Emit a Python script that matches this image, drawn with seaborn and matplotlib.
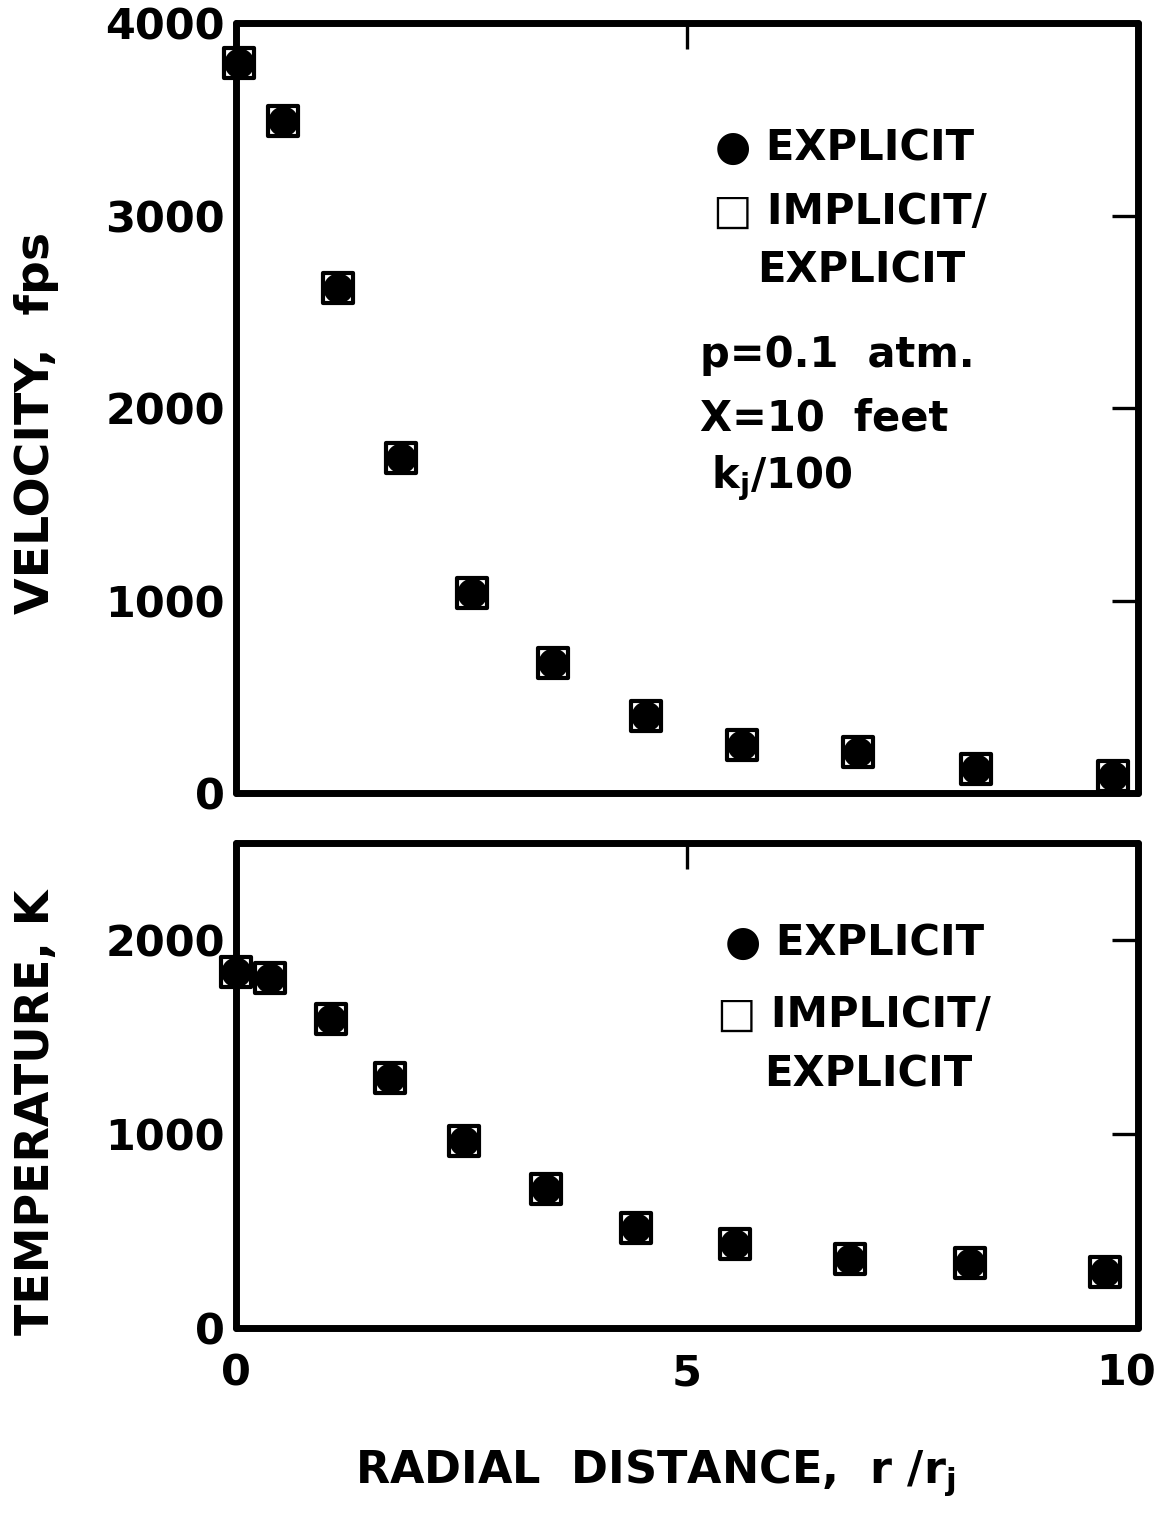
import numpy as np
import pandas as pd
import matplotlib
matplotlib.use("Agg")
import matplotlib.pyplot as plt
import matplotlib.transforms as mtransforms
import seaborn as sns

# ---------------- data ----------------
vel_r = [0.03, 0.52, 1.13, 1.83, 2.62, 3.51, 4.55, 5.61, 6.90, 8.20, 9.72]
vel_explicit = [3790, 3490, 2625, 1740, 1040, 675, 400, 250, 215, 125, 90]
vel_implicit = [3790, 3490, 2625, 1740, 1040, 675, 400, 250, 215, 125, 90]

temp_r = [0.0, 0.38, 1.05, 1.71, 2.53, 3.44, 4.43, 5.53, 6.81, 8.14, 9.63]
temp_explicit = [1835, 1805, 1595, 1290, 965, 715, 515, 435, 355, 335, 290]
temp_implicit = [1835, 1805, 1595, 1290, 965, 715, 515, 435, 355, 335, 290]

x_ticks = [0, 5, 10]
vel_ticks = [0, 1000, 2000, 3000, 4000]
temp_ticks = [0, 1000, 2000]

vel_df = pd.DataFrame({"r": vel_r, "explicit": vel_explicit, "implicit": vel_implicit})
temp_df = pd.DataFrame({"r": temp_r, "explicit": temp_explicit, "implicit": temp_implicit})

# ---------------- style ----------------
sns.set_style("white")
plt.rcParams["font.family"] = ["DejaVu Sans"]
plt.rcParams["mathtext.default"] = "regular"
for k in ("text.color", "axes.labelcolor", "xtick.color", "ytick.color"):
    plt.rcParams[k] = "black"

fig = plt.figure(figsize=(11.57, 15.14), dpi=100)
ax1 = fig.add_axes([0.204, 0.4762, 0.7796, 0.5086])
ax2 = fig.add_axes([0.204, 0.1229, 0.7796, 0.3203])

def draw(ax, df):
    sns.scatterplot(data=df, x="r", y="implicit", marker="s", s=470,
                    facecolor="white", edgecolor="black", linewidth=3.0,
                    ax=ax, zorder=3, legend=False)
    sns.scatterplot(data=df, x="r", y="explicit", marker="o", s=470,
                    color="black", edgecolor="black", linewidth=0,
                    ax=ax, zorder=4, legend=False)

draw(ax1, vel_df)
draw(ax2, temp_df)

for ax in (ax1, ax2):
    ax.set_xlim(0, 10)
    for sp in ax.spines.values():
        sp.set_visible(True)
        sp.set_linewidth(5)
        sp.set_color("black")
        sp.set_capstyle("round")
    ax.tick_params(direction="in", length=19, width=2.4, top=True, right=True,
                   labelsize=31, colors="black")
    ax.set_xticks(x_ticks)
    for c in ax.collections:
        c.set_clip_on(False)

ax1.set_ylim(0, 4000)
ax1.set_yticks(vel_ticks)
ax1.tick_params(axis="x", labelbottom=False)
ax1.tick_params(axis="y", pad=8)

ax2.set_ylim(0, 2500)
ax2.set_yticks(temp_ticks)
ax2.set_xticklabels([str(t) for t in x_ticks])
ax2.tick_params(axis="x", pad=18)
ax2.tick_params(axis="y", pad=8)

for ax in (ax1, ax2):
    for lab in ax.get_xticklabels() + ax.get_yticklabels():
        lab.set_fontweight("bold")

# nudge the last x tick label inward so it stays on the canvas
last = ax2.get_xticklabels()[-1]
last.set_transform(last.get_transform() +
                   mtransforms.ScaledTranslation(-12 / 100, 0, fig.dpi_scale_trans))

ax1.set_xlabel("")
ax1.set_ylabel("VELOCITY,  fps", fontsize=34, fontweight="bold")
ax1.yaxis.set_label_coords(-0.196, 0.48)
ax2.set_ylabel("TEMPERATURE, K", fontsize=33, fontweight="bold")
ax2.yaxis.set_label_coords(-0.196, 0.445)
ax2.set_xlabel("RADIAL  DISTANCE,  r /r$_{j}$", fontsize=32, fontweight="bold")
ax2.xaxis.set_label_coords(0.465, -0.245)

# ---------------- annotations / legend text ----------------
tk = dict(fontsize=30, fontweight="bold", va="center", ha="left")
ax1.text(0.531, 0.838, "\u25CF EXPLICIT", transform=ax1.transAxes, **tk)
ax1.text(0.529, 0.755, "\u25A1 IMPLICIT/", transform=ax1.transAxes, **tk)
ax1.text(0.578, 0.679, "EXPLICIT", transform=ax1.transAxes, **tk)
ax1.text(0.514, 0.569, "p=0.1  atm.", transform=ax1.transAxes, **tk)
ax1.text(0.514, 0.487, "X=10  feet", transform=ax1.transAxes, **tk)
ax1.text(0.527, 0.409, "k$_{j}$/100", transform=ax1.transAxes, **tk)

ax2.text(0.542, 0.794, "\u25CF EXPLICIT", transform=ax2.transAxes, **tk)
ax2.text(0.533, 0.645, "\u25A1 IMPLICIT/", transform=ax2.transAxes, **tk)
ax2.text(0.586, 0.522, "EXPLICIT", transform=ax2.transAxes, **tk)

fig.savefig("out.png", dpi=100)
